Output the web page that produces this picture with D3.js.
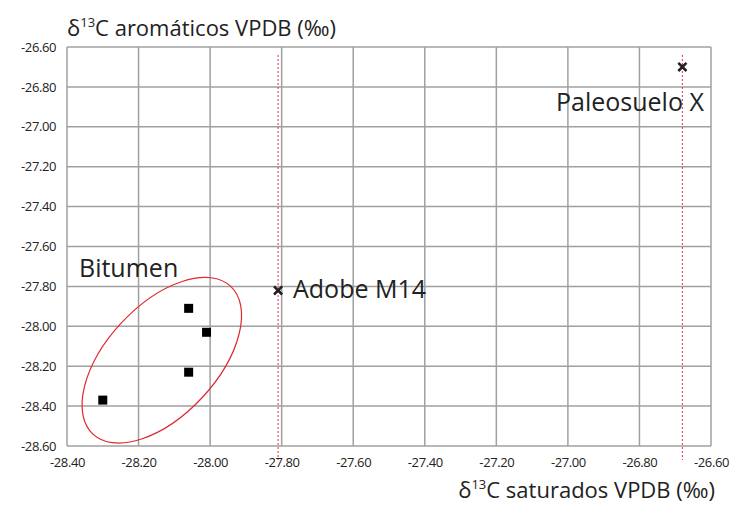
<!DOCTYPE html>
<html>
<head>
<meta charset="utf-8">
<script src="https://cdn.jsdelivr.net/npm/d3@7"></script>
<style>
	body { margin: 0; background: #fff; }
	text { font-family: "Open Sans", sans-serif; fill: #222; }
</style>
</head>
<body>
<svg id="chart" width="737" height="505"></svg>
<script>
// data
var xTicks = [-28.4, -28.2, -28.0, -27.8, -27.6, -27.4, -27.2, -27.0, -26.8, -26.6];
var yTicks = [-26.6, -26.8, -27.0, -27.2, -27.4, -27.6, -27.8, -28.0, -28.2, -28.4, -28.6];
var bitumenX = [-28.06, -28.01, -28.06, -28.30];
var bitumenY = [-27.91, -28.03, -28.23, -28.37];
var sampleNames = ["Adobe M14", "Paleosuelo X"];
var sampleX = [-27.81, -26.68];
var sampleY = [-27.82, -26.70];

var svg = d3.select("#chart");
var pLeft = 67, pRight = 711, pTop = 47, pBottom = 446;

var x = d3.scaleLinear().domain([-28.4, -26.6]).range([pLeft, pRight]);
var y = d3.scaleLinear().domain([-28.6, -26.6]).range([pBottom, pTop]);
var fmt = (d) => d.toFixed(2);

// grid
var grid = svg.append("g").attr("class", "grid");
grid.selectAll(".vline")
	.data(xTicks)
	.enter()
	.append("line")
	.attr("x1", (d) => x(d))
	.attr("x2", (d) => x(d))
	.attr("y1", pTop)
	.attr("y2", pBottom)
	.attr("stroke", "#a0a0a0")
	.attr("stroke-width", 1.5);
grid.selectAll(".hline")
	.data(yTicks)
	.enter()
	.append("line")
	.attr("x1", pLeft)
	.attr("x2", pRight)
	.attr("y1", (d) => y(d))
	.attr("y2", (d) => y(d))
	.attr("stroke", "#a0a0a0")
	.attr("stroke-width", 1.5);

// axes, labels only
var xAxis = svg.append("g")
	.attr("transform", "translate(0," + (pBottom + 6) + ")")
	.call(d3.axisBottom(x).tickValues(xTicks).tickFormat(fmt).tickSize(0));
var yAxis = svg.append("g")
	.attr("transform", "translate(" + (pLeft - 8) + ",0)")
	.call(d3.axisLeft(y).tickValues(yTicks).tickFormat(fmt).tickSize(0));
[xAxis, yAxis].forEach(function(a) {
	a.select(".domain").remove();
	a.selectAll("text")
		.style("font-family", "Open Sans, sans-serif")
		.style("font-size", "13px")
		.style("letter-spacing", "-0.4px")
		.attr("fill", "#222");
});
xAxis.selectAll("text").attr("dy", "0.9em");

// red dotted reference lines
svg.selectAll(".ref")
	.data(sampleX)
	.enter()
	.append("line")
	.attr("x1", (d) => x(d))
	.attr("x2", (d) => x(d))
	.attr("y1", pTop + 8)
	.attr("y2", pBottom + 14)
	.attr("stroke", "#e8323c")
	.attr("stroke-width", 1)
	.attr("stroke-dasharray", "2,2");

// ellipse round the bitumen group
svg.append("ellipse")
	.attr("cx", x(-28.135))
	.attr("cy", y(-28.17))
	.attr("rx", 101)
	.attr("ry", 55)
	.attr("transform", "rotate(-47," + x(-28.135) + "," + y(-28.17) + ")")
	.attr("fill", "none")
	.attr("stroke", "#e0282f")
	.attr("stroke-width", 1.2);

// bitumen squares
svg.selectAll(".sq")
	.data(bitumenX)
	.enter()
	.append("rect")
	.attr("x", (d) => x(d) - 4.5)
	.attr("y", (d, i) => y(bitumenY[i]) - 4.5)
	.attr("width", 9)
	.attr("height", 9)
	.attr("fill", "#000");

// sample crosses
var cross = d3.symbol().type(d3.symbolX).size(45);
svg.selectAll(".cross")
	.data(sampleX)
	.enter()
	.append("path")
	.attr("d", cross)
	.attr("transform", (d, i) => "translate(" + x(d) + "," + y(sampleY[i]) + ")")
	.attr("fill", "none")
	.attr("stroke", "#222")
	.attr("stroke-width", 2.6);

// annotations
svg.append("text").attr("x", 79).attr("y", 277).style("font-size", "25px").text("Bitumen");
svg.append("text").attr("x", 293).attr("y", 298).style("font-size", "25px").text(sampleNames[0]);
svg.append("text").attr("x", 556).attr("y", 111).style("font-size", "25px").text(sampleNames[1]);

// axis titles
var yt = svg.append("text").attr("x", 67).attr("y", 36).style("font-size", "22px");
yt.append("tspan").text("δ");
yt.append("tspan").attr("dy", -9).style("font-size", "13px").text("13");
yt.append("tspan").attr("dy", 9).text("C aromáticos VPDB (‰)");

var xt = svg.append("text").attr("x", 715).attr("y", 498).attr("text-anchor", "end").style("font-size", "22px");
xt.append("tspan").text("δ");
xt.append("tspan").attr("dy", -9).style("font-size", "13px").text("13");
xt.append("tspan").attr("dy", 9).text("C saturados VPDB (‰)");
</script>
</body>
</html>
